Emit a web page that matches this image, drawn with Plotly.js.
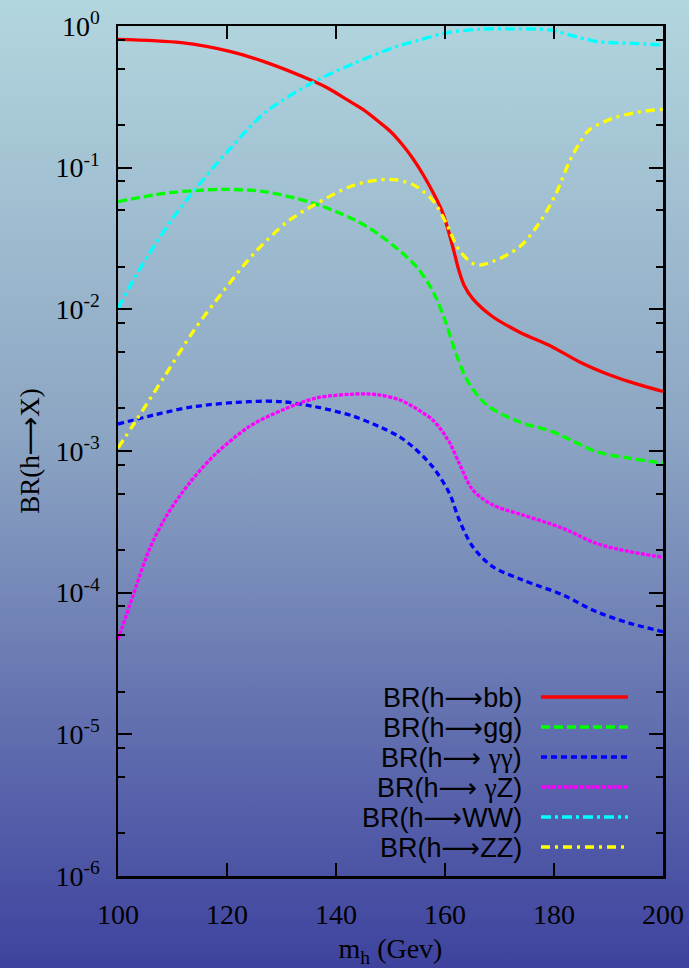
<!DOCTYPE html>
<html>
<head>
<meta charset="utf-8">
<script src="https://cdn.plot.ly/plotly-3.0.1.min.js"></script>
<style>
html, body { margin: 0; padding: 0; }
body { width: 689px; height: 968px; background: linear-gradient(to bottom, rgb(178,214,222) 0%, rgb(140,165,195) 45%, rgb(62,66,158) 100%); overflow: hidden; }
#chart { width: 689px; height: 968px; }
</style>
</head>
<body>
<div id="chart"></div>
<script>
// Higgs mass (GeV) and branching ratios
const bbMass = [100, 111.6, 120.7, 126.8, 136, 138.8, 142, 145, 148, 150, 152, 154, 156, 158, 159.5, 160.5, 161.5, 162.5, 163.5, 165, 168.7, 173.7, 179.7, 184.6, 190, 193.8, 200];
const bbBR   = [0.805, 0.762, 0.659, 0.560, 0.405, 0.359, 0.302, 0.257, 0.209, 0.180, 0.148, 0.1175, 0.0891, 0.0646, 0.049, 0.0372, 0.0269, 0.0191, 0.0148, 0.0120, 0.0089, 0.0069, 0.00543, 0.00427, 0.00347, 0.00309, 0.00263];

const ggMass = [100, 108.5, 114, 119.5, 126.8, 136, 143.4, 148, 151, 153, 155, 157, 158.5, 160.2, 162, 164.2, 167.8, 173.6, 179.7, 183, 187.7, 193.8, 200];
const ggBR   = [0.0575, 0.0659, 0.0689, 0.0703, 0.0678, 0.0558, 0.0428, 0.0335, 0.0272, 0.0234, 0.0195, 0.0151, 0.01175, 0.00798, 0.0049, 0.00309, 0.00209, 0.00161, 0.00137, 0.0012, 0.00099, 0.00089, 0.00082];

const aaMass = [100, 106.7, 114, 124, 130, 136, 143, 148, 151.5, 154.1, 157.7, 160.8, 162.6, 165.1, 168.7, 174.2, 181.6, 187.7, 193.8, 200];
const aaBR   = [0.00155, 0.0018, 0.00206, 0.00223, 0.00223, 0.00206, 0.00177, 0.00148, 0.00127, 0.00107, 0.000776, 0.000504, 0.000327, 0.000211, 0.000153, 0.000123, 0.0000964, 0.0000736, 0.000061, 0.0000531];

const aZMass = [100, 102.7, 105.7, 108.8, 113.1, 118, 124.1, 130.2, 136.3, 144.3, 147.9, 151.6, 154.1, 157.7, 159.5, 160.5, 161, 162.6, 165.1, 168.7, 174.2, 181.6, 187.7, 193.8, 200];
const aZBR   = [4.65e-5, 9.4e-5, 2.0e-4, 3.44e-4, 5.93e-4, 9.6e-4, 1.49e-3, 1.95e-3, 2.36e-3, 2.53e-3, 2.49e-3, 2.30e-3, 2.06e-3, 1.66e-3, 1.38e-3, 1.2e-3, 1.12e-3, 8.2e-4, 5.31e-4, 4.17e-4, 3.54e-4, 2.85e-4, 2.23e-4, 1.95e-4, 1.78e-4];

const wwMass = [100, 103, 106, 110, 114, 120, 127, 136, 143.4, 150.7, 155.5, 160.2, 166.5, 172, 179.2, 184, 188.3, 194.4, 200];
const wwBR   = [0.0102, 0.0166, 0.0257, 0.0437, 0.0692, 0.129, 0.245, 0.405, 0.546, 0.708, 0.80, 0.895, 0.95, 0.955, 0.938, 0.841, 0.774, 0.755, 0.735];

const zzMass = [100, 103, 108.5, 114, 119.5, 125, 131.1, 136, 143.4, 149.8, 154.1, 157.7, 160.2, 162.6, 165.7, 168.7, 173.7, 177.3, 180.4, 182.8, 184.5, 186.5, 190.8, 195.7, 200];
const zzBR   = [0.00105, 0.00157, 0.00335, 0.00716, 0.0137, 0.0249, 0.0416, 0.0546, 0.0755, 0.0828, 0.0759, 0.0592, 0.0407, 0.0262, 0.0206, 0.0217, 0.0277, 0.0406, 0.066, 0.11, 0.145, 0.185, 0.223, 0.248, 0.258];

const arrow = '<span style="font-family:\'DejaVu Sans\'">⟶</span>';
const gam = s => '<span style="font-family:\'Liberation Serif\'">' + s + '</span>';
const seriesNames = ['BR(h→bb)', 'BR(h→gg)', 'BR(h→ γγ)', 'BR(h→ γZ)', 'BR(h→WW)', 'BR(h→ZZ)'];
const legendLabels = ['BR(h' + arrow + 'bb)', 'BR(h' + arrow + 'gg)', 'BR(h' + arrow + ' ' + gam('γγ') + ')', 'BR(h' + arrow + ' ' + gam('γ') + 'Z)', 'BR(h' + arrow + 'WW)', 'BR(h' + arrow + 'ZZ)'];

const xTicks = [100, 120, 140, 160, 180, 200];
const yTickVals = [1e-6, 1e-5, 1e-4, 1e-3, 1e-2, 1e-1, 1];
const yTickText = ['10<sup>-6</sup>', '10<sup>-5</sup>', '10<sup>-4</sup>', '10<sup>-3</sup>', '10<sup>-2</sup>', '10<sup>-1</sup>', '10<sup>0</sup>'];

const colors = ['#ff0000', '#00ff00', '#0000ff', '#ff00ff', '#00ffff', '#ffff00'];
const dashes = ['solid', '9px,4px', '6px,4px', '4px,1.5px', '10px,4px,3px,4px', '9px,5px,3px,5px'];

const xs = [bbMass, ggMass, aaMass, aZMass, wwMass, zzMass];
const ys = [bbBR, ggBR, aaBR, aZBR, wwBR, zzBR];

const traces = xs.map((x, i) => ({
  x: x, y: ys[i], name: seriesNames[i], type: 'scatter', mode: 'lines',
  line: { color: colors[i], width: 3.3, dash: dashes[i], shape: 'spline', smoothing: 0.9 },
  showlegend: false, hoverinfo: 'skip'
}));

// minor ticks at 2, 5, 8 of each decade
const minorVals = [];
for (let e = -6; e <= -1; e++) { [2, 5, 8].forEach(m => minorVals.push(m * Math.pow(10, e))); }

const L = 118, R = 663, T = 26, B = 876, W = 689, H = 968;
const px2x = p => (p - L) / (R - L);
const px2y = p => (B - p) / (B - T);

const rowY = [697, 727, 757, 787, 817, 847];
const annotations = [];
const shapes = [];
legendLabels.forEach((lab, i) => {
  annotations.push({
    xref: 'paper', yref: 'paper', x: px2x(524), y: px2y(rowY[i]), xanchor: 'right', yanchor: 'middle',
    text: lab, showarrow: false, font: { family: 'Liberation Sans, Arial, sans-serif', size: 27, color: '#000' }
  });
  shapes.push({
    type: 'line', xref: 'paper', yref: 'paper', x0: px2x(541), x1: px2x(628), y0: px2y(rowY[i]), y1: px2y(rowY[i]),
    line: { color: colors[i], width: 3.3, dash: dashes[i] }
  });
});

const serif = 'Liberation Serif, Times New Roman, serif';
const layout = {
  width: W, height: H,
  margin: { l: L, r: W - R, t: T, b: H - B },
  paper_bgcolor: 'rgba(0,0,0,0)', plot_bgcolor: 'rgba(0,0,0,0)',
  showlegend: false,
  xaxis: {
    range: [100, 200], tickmode: 'array', tickvals: xTicks, ticktext: xTicks.map(String),
    ticks: 'inside', ticklen: 13, tickwidth: 2, tickcolor: '#000',
    showline: true, linecolor: '#000', linewidth: 2.5, mirror: 'allticks', showgrid: false, zeroline: false,
    tickfont: { family: serif, size: 28, color: '#000' }, ticklabelstandoff: 12,
    title: { text: 'm<sub>h</sub> (Gev)', font: { family: serif, size: 28, color: '#000' }, standoff: 14 }
  },
  yaxis: {
    type: 'log', range: [-6, 0], tickmode: 'array', tickvals: yTickVals, ticktext: yTickText,
    ticks: 'inside', ticklen: 14, tickwidth: 2, tickcolor: '#000',
    minor: { tickmode: 'array', tickvals: minorVals, ticks: 'inside', ticklen: 7, tickwidth: 2, tickcolor: '#000', showgrid: false },
    showline: true, linecolor: '#000', linewidth: 2.5, mirror: 'allticks', showgrid: false, zeroline: false,
    tickfont: { family: serif, size: 28, color: '#000' }, ticklabelstandoff: 10,
    title: { text: 'BR(h' + arrow + 'X)', font: { family: serif, size: 27, color: '#000' }, standoff: 8 }
  },
  annotations: annotations,
  shapes: shapes
};

Plotly.newPlot('chart', traces, layout, { staticPlot: true, displayModeBar: false });
</script>
</body>
</html>
